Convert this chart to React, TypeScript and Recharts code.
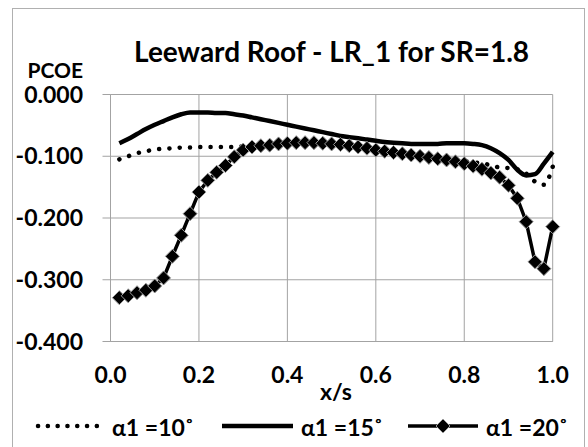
import { LineChart, Line, XAxis, YAxis, CartesianGrid } from 'recharts';

const X_POS = [
  0.02, 0.04, 0.06, 0.08, 0.1, 0.12, 0.14, 0.16, 0.18, 0.2,
  0.22, 0.24, 0.26, 0.28, 0.3, 0.32, 0.34, 0.36, 0.38, 0.4,
  0.42, 0.44, 0.46, 0.48, 0.5, 0.52, 0.54, 0.56, 0.58, 0.6,
  0.62, 0.64, 0.66, 0.68, 0.7, 0.72, 0.74, 0.76, 0.78, 0.8,
  0.82, 0.84, 0.86, 0.88, 0.9, 0.92, 0.94, 0.96, 0.98, 1.0,
];

// alpha1 = 10 deg (dotted)
const A10 = [
  -0.105, -0.1, -0.095, -0.092, -0.089, -0.088, -0.087, -0.086, -0.086, -0.085,
  -0.085, -0.085, -0.085, -0.085, -0.084, -0.083, -0.082, -0.081, -0.08, -0.079,
  -0.079, -0.079, -0.08, -0.081, -0.082, -0.083, -0.084, -0.086, -0.088, -0.09,
  -0.092, -0.094, -0.096, -0.098, -0.1, -0.101, -0.103, -0.105, -0.106, -0.108,
  -0.11, -0.111, -0.115, -0.118, -0.119, -0.121, -0.128, -0.141, -0.146, -0.117,
];

// alpha1 = 15 deg (solid)
const A15 = [
  -0.079, -0.072, -0.064, -0.056, -0.049, -0.043, -0.037, -0.032, -0.029, -0.029,
  -0.029, -0.03, -0.03, -0.032, -0.034, -0.037, -0.04, -0.043, -0.046, -0.049,
  -0.052, -0.055, -0.058, -0.061, -0.064, -0.067, -0.069, -0.071, -0.073, -0.075,
  -0.077, -0.078, -0.079, -0.08, -0.08, -0.08, -0.08, -0.079, -0.079, -0.079,
  -0.08, -0.082, -0.087, -0.095, -0.106, -0.122, -0.131, -0.129, -0.112, -0.093,
];

// alpha1 = 20 deg (diamonds)
const A20 = [
  -0.329, -0.326, -0.321, -0.317, -0.31, -0.297, -0.262, -0.228, -0.193, -0.158,
  -0.139, -0.126, -0.115, -0.101, -0.09, -0.085, -0.083, -0.082, -0.08, -0.079,
  -0.078, -0.078, -0.078, -0.079, -0.08, -0.081, -0.083, -0.085, -0.087, -0.09,
  -0.092, -0.094, -0.096, -0.098, -0.1, -0.102, -0.104, -0.106, -0.109, -0.112,
  -0.116, -0.121, -0.127, -0.134, -0.147, -0.168, -0.206, -0.271, -0.282, -0.214,
];

const X_TICKS = [0, 0.2, 0.4, 0.6, 0.8, 1.0];
const Y_TICKS = [-0.4, -0.3, -0.2, -0.1, 0];
const SERIES_NAMES = ['α1 =10˚', 'α1 =15˚', 'α1 =20˚'];

const FONT = 'Lato, "Noto Sans", sans-serif';
const GRID = '#a3a3a3';

const data = X_POS.map((x, i) => ({ x, a10: A10[i], a15: A15[i], a20: A20[i] }));

function Diamond({ cx, cy, size = 7 }: { cx: number; cy: number; size?: number }) {
  return (
    <path
      d={`M${cx},${cy - size}L${cx + size},${cy}L${cx},${cy + size}L${cx - size},${cy}Z`}
      fill="#000"
      stroke="#9a9a9a"
      strokeWidth={1}
    />
  );
}

export default function App() {
  return (
    <div style={{ position: 'absolute', left: 0, top: 0, width: 588, height: 447, overflow: 'hidden', background: '#fff', fontFamily: FONT }}>
      <div style={{ position: 'absolute', left: 12, top: 8, width: 571, height: 460, border: '1px solid #b0b0b0' }} />
      <LineChart
        width={588}
        height={447}
        data={data}
        margin={{ top: 94.5, right: 35.3, bottom: 0, left: 0 }}
        style={{ position: 'absolute', left: 0, top: 0 }}
      >
        <CartesianGrid stroke={GRID} strokeWidth={1} />
        <XAxis
          type="number"
          dataKey="x"
          domain={[0, 1]}
          ticks={X_TICKS}
          tickFormatter={(v: number) => v.toFixed(1)}
          height={105.5}
          axisLine={{ stroke: GRID }}
          tickLine={false}
          tickSize={0}
          tickMargin={25.5}
          tick={{ fill: '#000', fontSize: 23, fontWeight: 700, fontFamily: FONT }}
          label={{
            content: ({ viewBox }: any) => (
              <text x={336} y={viewBox.y + 58} textAnchor="middle" fontSize={23} fontWeight={700} fontFamily={FONT} fill="#000">
                x/s
              </text>
            ),
          } as never}
        />
        <YAxis
          type="number"
          domain={[-0.4, 0]}
          ticks={Y_TICKS}
          tickFormatter={(v: number) => v.toFixed(3)}
          width={110.5}
          axisLine={{ stroke: GRID }}
          tickLine={{ stroke: GRID }}
          tickSize={8}
          tickMargin={19.5}
          tick={{ fill: '#000', fontSize: 23, fontWeight: 700, fontFamily: FONT }}
          label={{
            content: ({ viewBox }: any) => (
              <text x={viewBox.x + viewBox.width - 27.5} y={viewBox.y - 16.5} textAnchor="end" fontSize={21} fontWeight={700} fontFamily={FONT} fill="#000">
                PCOE
              </text>
            ),
          } as never}
        />
        <Line
          type="monotone"
          dataKey="a10"
          stroke="#000"
          strokeWidth={4.5}
          strokeDasharray="0.1 10.2"
          strokeLinecap="round"
          dot={false}
          activeDot={false}
          isAnimationActive={false}
        />
        <Line
          type="monotone"
          dataKey="a15"
          stroke="#000"
          strokeWidth={4.5}
          dot={false}
          activeDot={false}
          isAnimationActive={false}
        />
        <Line
          type="linear"
          dataKey="a20"
          stroke="#000"
          strokeWidth={3.5}
          dot={(p: any) => <Diamond key={`d${p.index}`} cx={p.cx} cy={p.cy} />}
          activeDot={false}
          isAnimationActive={false}
        />
      </LineChart>
      <svg width={588} height={447} style={{ position: 'absolute', left: 0, top: 0, pointerEvents: 'none' }}>
        <text x={331.6} y={62} textAnchor="middle" fontSize={28} fontWeight={700} fontFamily={FONT} fill="#000">
          Leeward Roof - LR_1 for SR=1.8
        </text>
        {/* legend */}
        <line x1={38} y1={426} x2={97} y2={426} stroke="#000" strokeWidth={4.5} strokeDasharray="0.1 9.7" strokeLinecap="round" />
        <text x={112} y={435.5} fontSize={23} fontWeight={700} fontFamily={FONT} fill="#000">{SERIES_NAMES[0]}</text>
        <line x1={222} y1={426} x2={293} y2={426} stroke="#000" strokeWidth={4.5} />
        <text x={301} y={435.5} fontSize={23} fontWeight={700} fontFamily={FONT} fill="#000">{SERIES_NAMES[1]}</text>
        <line x1={408} y1={426} x2={478} y2={426} stroke="#000" strokeWidth={3.5} />
        <Diamond cx={443} cy={426} />
        <text x={486} y={435.5} fontSize={23} fontWeight={700} fontFamily={FONT} fill="#000">{SERIES_NAMES[2]}</text>
      </svg>
    </div>
  );
}
